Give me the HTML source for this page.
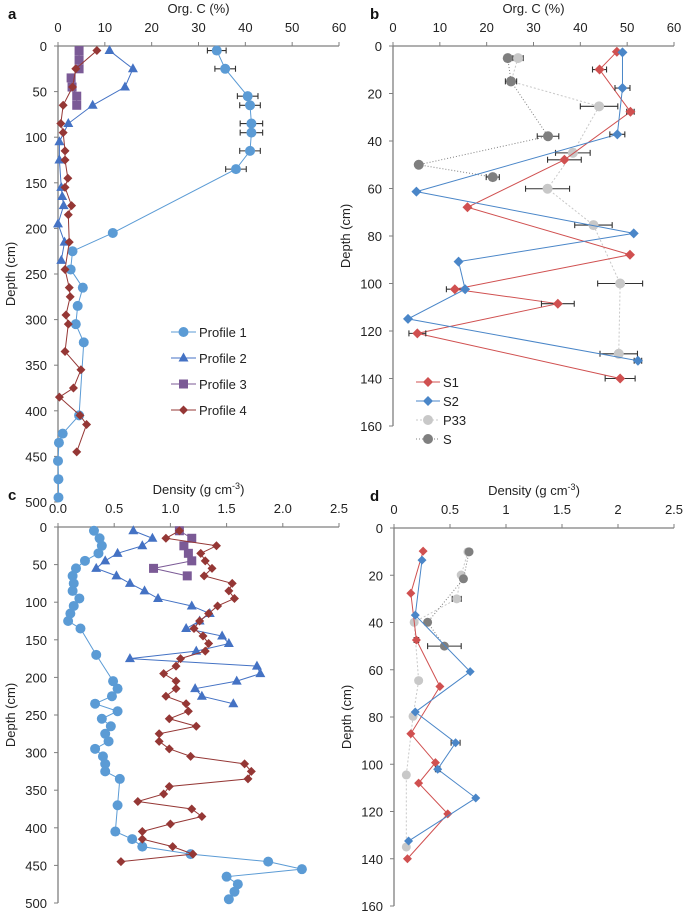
<!DOCTYPE html>
<html><head><meta charset="utf-8">
<style>
html,body{margin:0;padding:0;background:#fff;}
svg{display:block;font-family:"Liberation Sans",Arial,sans-serif;}
</style></head>
<body>
<svg id="fig" width="685" height="914" viewBox="0 0 685 914"></svg>
<script>
// ---------- Panel a data (depth cm, Org. C %) ----------
const aP1Depth=[5,25,55,65,85,95,115,135,205,225,245,265,285,305,325,405,425,435,455,475,495];
const aP1Val=[33.9,35.7,40.5,41,41.3,41.3,41,38,11.7,3.1,2.7,5.3,4.2,3.8,5.5,4.5,1,0.2,0,0.1,0.1];
const aP1Err=[2,2.2,2.2,2.2,2.4,2.4,2.2,2.2,0,0,0,0,0,0,0,0,0,0,0,0,0];
const aP2Depth=[5,25,45,65,85,105,125,155,165,175,195,215,235];
const aP2Val=[11,16,14.3,7.4,2.2,0.3,0.3,0.7,0.9,1.2,0,1.4,0.7];
const aP3Depth=[5,15,25,35,45,55,65];
const aP3Val=[4.5,4.5,4.5,2.8,3,4,4];
const aP4Depth=[5,25,45,65,85,95,115,125,145,155,175,185,215,245,265,275,295,305,335,355,375,385,405,415,445];
const aP4Val=[8.3,3.8,3.1,1.1,0.6,1.1,1.5,1.5,2.1,1.5,2.9,2.2,2.4,1.5,2.4,2.6,1.7,2.2,1.5,4.9,3.3,0.3,4.7,6.1,4];
// ---------- Panel b data ----------
const bS1Depth=[2.4,9.9,27.7,47.9,67.9,87.9,102.4,108.5,121,140];
const bS1Val=[47.8,44.1,50.7,36.6,15.9,50.6,13.2,35.2,5.2,48.5];
const bS1Err=[0,1.5,0.8,3.6,0,0,1.8,3.5,1.8,3.2];
const bS2Depth=[2.7,17.7,37.2,61.3,78.9,90.8,102.4,114.9,132.5];
const bS2Val=[49,49,47.9,5,51.4,14,15.4,3.2,52.3];
const bS2Err=[0,1.6,1.6,0,0,0,0,0,0.8];
const bP33Depth=[5.1,14.9,25.4,45,60.1,75.4,100,129.6];
const bP33Val=[26.7,25.2,44,38.4,33,42.8,48.5,48.2];
const bP33Err=[1.1,0,4,3.7,4.7,4,4.8,4];
const bSDepth=[5.1,14.9,38,50,55.2];
const bSVal=[24.5,25.2,33.1,5.5,21.3];
const bSErr=[0,1.2,2.3,0,1.4];
// ---------- Panel c data (depth cm, density g cm-3) ----------
const cP1Depth=[5,15,25,35,45,55,65,75,85,95,105,115,125,135,170,205,215,225,235,245,255,265,275,285,295,305,315,325,335,370,405,415,425,435,445,455,465,475,485,495];
const cP1Val=[0.32,0.37,0.39,0.36,0.24,0.16,0.13,0.14,0.13,0.19,0.14,0.11,0.09,0.2,0.34,0.49,0.53,0.48,0.33,0.53,0.39,0.47,0.42,0.45,0.33,0.4,0.42,0.42,0.55,0.53,0.51,0.66,0.75,1.18,1.87,2.17,1.5,1.6,1.57,1.52];
const cP2Depth=[5,15,25,35,45,55,65,75,85,95,105,115,125,135,145,155,165,175,185,195,205,215,225,235];
const cP2Val=[0.67,0.84,0.75,0.53,0.42,0.34,0.52,0.64,0.77,0.89,1.19,1.35,1.26,1.14,1.46,1.52,1.23,0.64,1.77,1.8,1.59,1.22,1.28,1.56];
const cP3Depth=[5,15,25,35,45,55,65];
const cP3Val=[1.08,1.19,1.12,1.16,1.19,0.85,1.15];
const cP4Depth=[5,15,25,35,45,55,65,75,85,95,105,115,125,135,145,155,165,175,185,195,205,215,225,235,245,255,265,275,285,295,305,315,325,335,345,355,365,375,385,395,405,415,425,435,445];
const cP4Val=[1.08,0.96,1.41,1.27,1.31,1.37,1.3,1.55,1.52,1.57,1.42,1.34,1.26,1.21,1.29,1.34,1.31,1.09,1.05,0.94,1.05,1.05,0.96,1.14,1.16,0.99,1.23,0.9,0.9,0.99,1.18,1.66,1.72,1.69,0.99,0.94,0.71,1.19,1.28,1.0,0.75,0.75,1.02,1.2,0.56];
// ---------- Panel d data ----------
const dS1Depth=[9.8,27.6,47.4,67.1,87.1,99.3,108,121,140];
const dS1Val=[0.26,0.15,0.2,0.41,0.15,0.37,0.22,0.48,0.12];
const dS1Err=[0,0,0.02,0,0,0,0,0,0];
const dS2Depth=[13.6,36.9,60.8,77.9,90.9,102.1,114.3,132.5];
const dS2Val=[0.25,0.19,0.68,0.19,0.55,0.39,0.73,0.13];
const dS2Err=[0,0,0,0,0.04,0.02,0,0];
const dP33Depth=[10.1,19.9,30,39.9,64.6,79.7,104.5,135];
const dP33Val=[0.66,0.6,0.56,0.18,0.22,0.17,0.11,0.11];
const dP33Err=[0,0,0.04,0,0,0,0,0];
const dSDepth=[10.1,21.5,39.9,50];
const dSVal=[0.67,0.62,0.3,0.45];
const dSErr=[0,0,0,0.15];

const xTicksA=["0","10","20","30","40","50","60"];
const yTicksA=["0","50","100","150","200","250","300","350","400","450","500"];
const xTicksB=["0","10","20","30","40","50","60"];
const yTicksB=["0","20","40","60","80","100","120","140","160"];
const xTicksC=["0.0","0.5","1.0","1.5","2.0","2.5"];
const xTicksD=["0","0.5","1","1.5","2","2.5"];

const NS="http://www.w3.org/2000/svg";
const svg=document.getElementById('fig');
function mk(tag,attrs,parent){const e=document.createElementNS(NS,tag);for(const k in attrs)e.setAttribute(k,attrs[k]);(parent||svg).appendChild(e);return e;}

function panel(name,L,R,T,B,xmax,ymax,xt,yt,letter,lx,title,sup){
  const g=mk('g',{});
  
  
  const sx=v=>L+(R-L)*v/xmax, sy=d=>T+(B-T)*d/ymax;
  const ax=mk('line',{x1:L,y1:T,x2:R,y2:T,stroke:'#7f7f7f','stroke-width':1.3},g);
  
  const ay=mk('line',{x1:L,y1:T,x2:L,y2:B,stroke:'#7f7f7f','stroke-width':1.3},g);
  
  xt.forEach((t,i)=>{const x=L+(R-L)*i/(xt.length-1);
    mk('line',{x1:x,y1:T-4,x2:x,y2:T,stroke:'#7f7f7f'},g);
    const tx=mk('text',{x:x,y:T-14,'text-anchor':'middle','font-size':13,fill:'#222'},g);tx.textContent=t;
    });
  yt.forEach((t,i)=>{const y=T+(B-T)*i/(yt.length-1);
    mk('line',{x1:L-4,y1:y,x2:L,y2:y,stroke:'#7f7f7f'},g);
    const tx=mk('text',{x:L-11,y:y+5,'text-anchor':'end','font-size':13,fill:'#222'},g);tx.textContent=t;
    });
  const le=mk('text',{x:lx,y:T-27,'font-size':15,'font-weight':'bold',fill:'#111'},g);le.textContent=letter;
  
  const ti=mk('text',{x:(L+R)/2,y:T-33,'text-anchor':'middle','font-size':13,fill:'#222'},g);
  ti.textContent=title;
  if(sup){const ts=mk('tspan',{'baseline-shift':'super','font-size':9},ti);ts.textContent='-3';const t2=mk('tspan',{},ti);t2.textContent=')';}
  
  const yl=mk('text',{x:0,y:0,'text-anchor':'middle','font-size':13,fill:'#222',transform:`translate(${L-43},${(T+B)/2}) rotate(-90)`},g);
  yl.textContent='Depth (cm)';
  
  return {g,sx,sy};
}
function marker(g,type,x,y,color,s){
  let e;
  if(type==='circle')e=mk('circle',{cx:x,cy:y,r:s,fill:color},g);
  else if(type==='tri')e=mk('polygon',{points:`${x},${y-s*1.1} ${x-s},${y+s*0.7} ${x+s},${y+s*0.7}`,fill:color},g);
  else if(type==='sq')e=mk('rect',{x:x-s,y:y-s,width:2*s,height:2*s,fill:color},g);
  else e=mk('polygon',{points:`${x},${y-s} ${x+s},${y} ${x},${y+s} ${x-s},${y}`,fill:color},g);
  return e;
}
function series(P,name,depth,vals,errs,color,type,s,dash,lw){
  const g=mk('g',{},P.g);
  
  const pts=depth.map((d,i)=>P.sx(vals[i])+','+P.sy(d)).join(' ');
  const ln=mk('polyline',{points:pts,fill:'none',stroke:color,'stroke-width':lw||1,'stroke-dasharray':dash||'none'},g);
  
  if(errs)depth.forEach((d,i)=>{if(!errs[i])return;const y=P.sy(d),x1=P.sx(vals[i]-errs[i]),x2=P.sx(vals[i]+errs[i]);
    const eb=mk('path',{d:`M${x1},${y}H${x2}M${x1},${y-3}V${y+3}M${x2},${y-3}V${y+3}`,stroke:'#333','stroke-width':1.1,fill:'none'},g);
    });
  depth.forEach((d,i)=>{const m=marker(g,type,P.sx(vals[i]),P.sy(d),color,s);
    });
}
function legend(name,x,y0,dy,entries,fs,len){
  const g=mk('g',{});
  entries.forEach((en,i)=>{const y=y0+i*dy;
    const eg=mk('g',{},g);
    mk('line',{x1:x,y1:y,x2:x+len,y2:y,stroke:en.c,'stroke-width':1,'stroke-dasharray':en.dash||'none'},eg);
    marker(eg,en.t,x+len/2,y,en.c,en.s);
    const t=mk('text',{x:x+len+3,y:y+5,'font-size':fs,fill:'#222'},eg);t.textContent=en.n;});
}

const C1='#5b9bd5',C2='#4472c4',C3='#7b5a96',C4='#953735',RS='#d05050',BS='#4a86c8',LG='#c8c8c8',DG='#7f7f7f';

// Panel a
const A=panel('a',58,339,46,502,60,500,xTicksA,yTicksA,'a',8,'Org. C (%)');
series(A,'profile-1',aP1Depth,aP1Val,aP1Err,C1,'circle',5,null);
series(A,'profile-2',aP2Depth,aP2Val,null,C2,'tri',5,null);
series(A,'profile-3',aP3Depth,aP3Val,null,C3,'sq',4.5,null);
series(A,'profile-4',aP4Depth,aP4Val,null,C4,'dia',4.5,null);
legend('a',171,332,26,[{n:'Profile 1',c:C1,t:'circle',s:5},{n:'Profile 2',c:C2,t:'tri',s:5},{n:'Profile 3',c:C3,t:'sq',s:4.5},{n:'Profile 4',c:C4,t:'dia',s:4.5}],13,25);

// Panel b
const Bp=panel('b',393,674,46,426,60,160,xTicksB,yTicksB,'b',370,'Org. C (%)');
series(Bp,'p33',bP33Depth,bP33Val,bP33Err,LG,'circle',5,'2,2');
series(Bp,'s',bSDepth,bSVal,bSErr,DG,'circle',5,'1,2');
series(Bp,'s1',bS1Depth,bS1Val,bS1Err,RS,'dia',5,null);
series(Bp,'s2',bS2Depth,bS2Val,bS2Err,BS,'dia',5,null);
legend('b',416,382,19,[{n:'S1',c:RS,t:'dia',s:5},{n:'S2',c:BS,t:'dia',s:5},{n:'P33',c:LG,t:'circle',s:5,dash:'2,2'},{n:'S',c:DG,t:'circle',s:5,dash:'1,2'}],13,24);

// Panel c
const Cp=panel('c',58,339,527,903,2.5,500,xTicksC,yTicksA,'c',8,'Density (g cm',true);
series(Cp,'profile-1',cP1Depth,cP1Val,null,C1,'circle',5,null);
series(Cp,'profile-2',cP2Depth,cP2Val,null,C2,'tri',5,null);
series(Cp,'profile-3',cP3Depth,cP3Val,null,C3,'sq',4.5,null);
series(Cp,'profile-4',cP4Depth,cP4Val,null,C4,'dia',4.5,null);

// Panel d
const Dp=panel('d',394,674,528,906,2.5,160,xTicksD,yTicksB,'d',370,'Density (g cm',true);
series(Dp,'p33',dP33Depth,dP33Val,dP33Err,LG,'circle',4.5,'2,2');
series(Dp,'s',dSDepth,dSVal,dSErr,DG,'circle',4.5,'1,2');
series(Dp,'s1',dS1Depth,dS1Val,dS1Err,RS,'dia',4.5,null);
series(Dp,'s2',dS2Depth,dS2Val,dS2Err,BS,'dia',4.5,null);
</script>
</body></html>
